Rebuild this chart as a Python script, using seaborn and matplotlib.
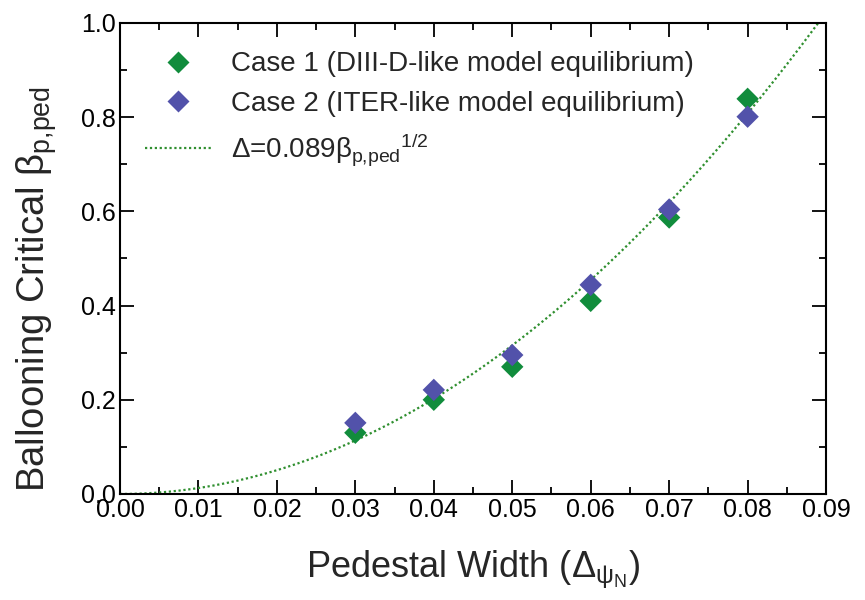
import numpy as np
import pandas as pd
import matplotlib
matplotlib.use("Agg")
import matplotlib.pyplot as plt
import seaborn as sns
from matplotlib.ticker import MultipleLocator

# ---- data ----
width = [0.03, 0.04, 0.05, 0.06, 0.07, 0.08]
case1_beta = [0.13, 0.20, 0.27, 0.41, 0.587, 0.839]
case2_beta = [0.151, 0.221, 0.295, 0.444, 0.604, 0.801]
fit_coef = 0.089
case1_label = "Case 1 (DIII-D-like model equilibrium)"
case2_label = "Case 2 (ITER-like model equilibrium)"
fit_label = r"Δ=0.089$\beta_{p{,}ped}$$^{1/2}$"
xlabel = r"Pedestal Width ($\Delta_{\psi_N}$)"
ylabel = r"Ballooning Critical $\beta_{p{,}ped}$"

sns.set_style("ticks")
plt.rcParams["font.family"] = ["Liberation Sans", "DejaVu Sans"]
plt.rcParams["mathtext.fontset"] = "custom"
plt.rcParams["mathtext.rm"] = "Liberation Sans"
plt.rcParams["mathtext.it"] = "Liberation Sans"
plt.rcParams["mathtext.bf"] = "Liberation Sans:bold"

green = "#118c3c"
purple = "#5252aa"
linegreen = "#2f8f2f"

fig = plt.figure(figsize=(8.65, 6.0), dpi=100)
ax = fig.add_axes([0.1387, 0.1767, 0.955 - 0.1387, 0.9617 - 0.1767])

# fit curve: beta = (Delta / coef)^2
xf = np.linspace(0, 0.09, 300)
fit_df = pd.DataFrame({"x": xf, "y": (xf / fit_coef) ** 2})

df = pd.DataFrame({
    "x": width + width,
    "y": case1_beta + case2_beta,
    "case": [case1_label] * len(width) + [case2_label] * len(width),
})

sns.scatterplot(data=df, x="x", y="y", hue="case", palette=[green, purple],
                marker="D", s=130, edgecolor="none", ax=ax, zorder=3)
sns.lineplot(data=fit_df, x="x", y="y", color=linegreen, linestyle=(0, (1, 1.2)),
             linewidth=1.6, ax=ax, label=fit_label, zorder=2)

ax.set_xlim(0, 0.09)
ax.set_ylim(0, 1.0)
ax.xaxis.set_major_locator(MultipleLocator(0.01))
ax.xaxis.set_minor_locator(MultipleLocator(0.005))
ax.yaxis.set_major_locator(MultipleLocator(0.2))
ax.yaxis.set_minor_locator(MultipleLocator(0.1))
ax.xaxis.set_major_formatter(matplotlib.ticker.FormatStrFormatter("%.2f"))
ax.yaxis.set_major_formatter(matplotlib.ticker.FormatStrFormatter("%.1f"))
ax.tick_params(which="both", direction="in", top=True, right=True, width=1.3, colors="black")
ax.tick_params(which="major", length=10, labelsize=18, pad=3)
ax.tick_params(which="minor", length=5)
for sp in ax.spines.values():
    sp.set_linewidth(1.5)
    sp.set_color("black")

ax.set_xlabel(xlabel, fontsize=26)
ax.set_ylabel(ylabel, fontsize=27.5)
ax.xaxis.set_label_coords(0.5, -0.115)
ax.yaxis.set_label_coords(-0.087, 0.435)

handles, labels = ax.get_legend_handles_labels()
leg = ax.legend(handles, labels, loc="upper left", bbox_to_anchor=(0.0, 0.993),
                frameon=False, fontsize=20, handletextpad=0.7, labelspacing=0.5,
                borderaxespad=0.5, handlelength=2.4, markerscale=1.0)

fig.savefig("out.png", dpi=100)
